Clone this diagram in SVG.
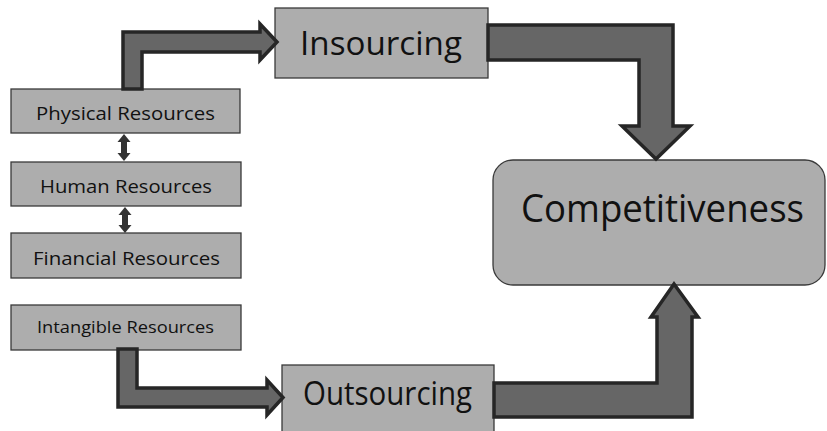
<svg xmlns="http://www.w3.org/2000/svg" width="827" height="431" viewBox="0 0 827 431">
<style>
.box{fill:#adadad;stroke:#3a3a3a;stroke-width:1.3}
.big{fill:#666666;stroke:#262626;stroke-width:3.5;stroke-linejoin:miter}
.dbl{fill:#333333;stroke:none}
text{font-family:"Open Sans","Noto Sans","Liberation Sans",sans-serif;fill:#111111;text-anchor:start}
.s{font-size:18px}
.s2{font-size:17px}
.m{font-size:32px}
.l{font-size:39px}
</style>
<rect width="827" height="431" fill="#ffffff"/>
<g id="insourcing"><rect class="box" x="275" y="8" width="213" height="70"/><text class="m" x="300" y="55" textLength="162" lengthAdjust="spacingAndGlyphs">Insourcing</text></g>
<g id="outsourcing"><rect class="box" x="282" y="365" width="212" height="80"/><text class="m" x="303" y="405" textLength="169" lengthAdjust="spacingAndGlyphs">Outsourcing</text></g>
<g id="competitiveness"><rect class="box" x="493" y="160" width="332" height="125" rx="20" ry="20"/><text class="l" x="521" y="222" textLength="283" lengthAdjust="spacingAndGlyphs">Competitiveness</text></g>
<g id="physical"><rect class="box" x="11" y="89" width="229" height="44"/><text class="s" x="36" y="120" textLength="179" lengthAdjust="spacingAndGlyphs">Physical Resources</text></g>
<g id="human"><rect class="box" x="11" y="162" width="230" height="44"/><text class="s" x="40" y="193" textLength="172" lengthAdjust="spacingAndGlyphs">Human Resources</text></g>
<g id="financial"><rect class="box" x="11" y="233" width="230" height="45"/><text class="s" x="33" y="265" textLength="187" lengthAdjust="spacingAndGlyphs">Financial Resources</text></g>
<g id="intangible"><rect class="box" x="11" y="305" width="230" height="45"/><text class="s2" x="37" y="333" textLength="177" lengthAdjust="spacingAndGlyphs">Intangible Resources</text></g>
<g id="connectors">
<path class="big" d="M123,89 L123,32 L260,32 L260,24 L277,42 L260,60 L260,52 L142,52 L142,89 Z"/>
<path class="big" d="M488,25 L673,25 L673,126 L690,126 L656,159 L622,126 L639,126 L639,60 L488,60 Z"/>
<path class="big" d="M494,417 L692,417 L692,317 L698,317 L674,284 L651,317 L657,317 L657,383 L494,383 Z"/>
<path class="big" d="M118,349 L118,407 L267,407 L267,415 L283,397.5 L267,380 L267,388 L137,388 L137,349 Z"/>
<path class="dbl" d="M124,134 L130.5,142 L127,142 L127,153 L130.5,153 L124,161 L117.5,153 L121,153 L121,142 L117.5,142 Z"/>
<path class="dbl" d="M125,207 L131.5,215 L128,215 L128,225 L131.5,225 L125,233 L118.5,225 L122,225 L122,215 L118.5,215 Z"/>
</g>
</svg>
